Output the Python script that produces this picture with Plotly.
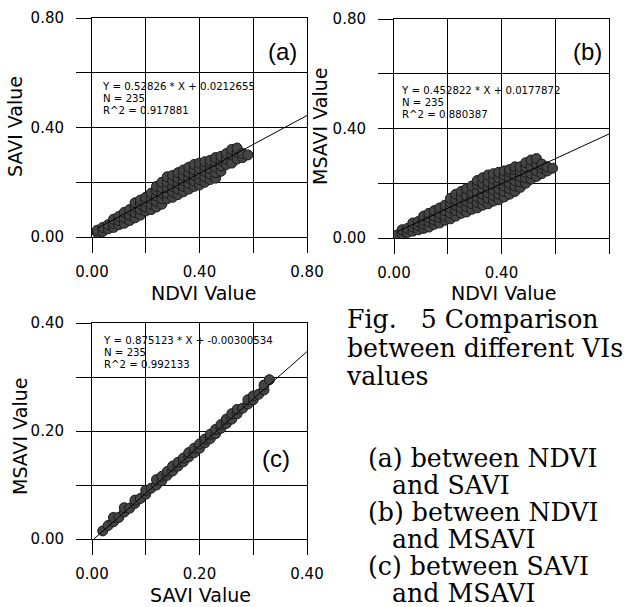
import plotly.graph_objects as go

# ---------------- data ----------------
# (a) NDVI vs SAVI
a_ndvi = [0.02, 0.02, 0.04, 0.04, 0.06, 0.06, 0.08, 0.08, 0.08, 0.10, 0.10, 0.10,
          0.12, 0.12, 0.12, 0.14, 0.14, 0.14, 0.16, 0.16, 0.16, 0.16,
          0.18, 0.18, 0.18, 0.18, 0.20, 0.20, 0.20, 0.20, 0.22, 0.22, 0.22, 0.22,
          0.24, 0.24, 0.24, 0.24, 0.24, 0.26, 0.26, 0.26, 0.26, 0.26,
          0.28, 0.28, 0.28, 0.28, 0.28, 0.30, 0.30, 0.30, 0.30, 0.30,
          0.32, 0.32, 0.32, 0.32, 0.32, 0.34, 0.34, 0.34, 0.34, 0.34,
          0.36, 0.36, 0.36, 0.36, 0.36, 0.38, 0.38, 0.38, 0.38, 0.38,
          0.40, 0.40, 0.40, 0.40, 0.40, 0.42, 0.42, 0.42, 0.42, 0.42,
          0.44, 0.44, 0.44, 0.44, 0.44, 0.46, 0.46, 0.46, 0.46, 0.46,
          0.48, 0.48, 0.48, 0.48, 0.50, 0.50, 0.50, 0.52, 0.52, 0.52,
          0.54, 0.54, 0.54, 0.56, 0.56, 0.58]
a_savi = [0.015, 0.025, 0.020, 0.035, 0.030, 0.045, 0.035, 0.050, 0.065, 0.045, 0.060, 0.075,
          0.050, 0.070, 0.090, 0.060, 0.080, 0.100, 0.070, 0.090, 0.110, 0.125,
          0.080, 0.100, 0.120, 0.135, 0.095, 0.110, 0.130, 0.145, 0.100, 0.120, 0.140, 0.160,
          0.110, 0.130, 0.150, 0.170, 0.185, 0.120, 0.140, 0.160, 0.180, 0.200,
          0.140, 0.160, 0.180, 0.200, 0.220, 0.145, 0.165, 0.185, 0.205, 0.225,
          0.155, 0.175, 0.195, 0.215, 0.235, 0.165, 0.185, 0.205, 0.225, 0.245,
          0.175, 0.195, 0.215, 0.235, 0.255, 0.185, 0.205, 0.225, 0.245, 0.265,
          0.190, 0.210, 0.230, 0.250, 0.270, 0.200, 0.220, 0.240, 0.260, 0.275,
          0.210, 0.230, 0.250, 0.270, 0.280, 0.215, 0.235, 0.255, 0.275, 0.290,
          0.240, 0.260, 0.280, 0.295, 0.265, 0.285, 0.305, 0.270, 0.300, 0.320,
          0.285, 0.310, 0.325, 0.290, 0.305, 0.300]

# (b) NDVI vs MSAVI
b_ndvi = [0.01, 0.03, 0.03, 0.05, 0.05, 0.07, 0.07, 0.07, 0.09, 0.09, 0.09,
          0.11, 0.11, 0.11, 0.11, 0.13, 0.13, 0.13, 0.13, 0.15, 0.15, 0.15, 0.15,
          0.17, 0.17, 0.17, 0.17, 0.19, 0.19, 0.19, 0.19,
          0.21, 0.21, 0.21, 0.21, 0.21, 0.23, 0.23, 0.23, 0.23, 0.23,
          0.25, 0.25, 0.25, 0.25, 0.25, 0.27, 0.27, 0.27, 0.27, 0.27,
          0.29, 0.29, 0.29, 0.29, 0.29, 0.31, 0.31, 0.31, 0.31, 0.31, 0.31,
          0.33, 0.33, 0.33, 0.33, 0.33, 0.33, 0.35, 0.35, 0.35, 0.35, 0.35, 0.35,
          0.37, 0.37, 0.37, 0.37, 0.37, 0.37, 0.39, 0.39, 0.39, 0.39, 0.39, 0.39,
          0.41, 0.41, 0.41, 0.41, 0.41, 0.41, 0.43, 0.43, 0.43, 0.43, 0.43, 0.43,
          0.45, 0.45, 0.45, 0.45, 0.45, 0.45, 0.47, 0.47, 0.47, 0.47, 0.47,
          0.49, 0.49, 0.49, 0.49, 0.49, 0.51, 0.51, 0.51, 0.51,
          0.53, 0.53, 0.53, 0.53, 0.55, 0.55, 0.55, 0.57, 0.57, 0.59]
b_msavi = [0.010, 0.015, 0.030, 0.020, 0.035, 0.025, 0.040, 0.055, 0.030, 0.045, 0.060,
           0.035, 0.050, 0.065, 0.080, 0.040, 0.060, 0.075, 0.090, 0.050, 0.065, 0.080, 0.100,
           0.055, 0.075, 0.090, 0.110, 0.065, 0.080, 0.100, 0.120,
           0.070, 0.090, 0.110, 0.130, 0.145, 0.080, 0.100, 0.120, 0.140, 0.160,
           0.090, 0.110, 0.130, 0.150, 0.170, 0.095, 0.115, 0.135, 0.155, 0.180,
           0.105, 0.125, 0.145, 0.165, 0.190, 0.110, 0.130, 0.150, 0.170, 0.195, 0.210,
           0.120, 0.140, 0.160, 0.180, 0.200, 0.220, 0.125, 0.145, 0.165, 0.185, 0.205, 0.230,
           0.135, 0.155, 0.175, 0.195, 0.215, 0.235, 0.140, 0.160, 0.180, 0.200, 0.220, 0.240,
           0.150, 0.170, 0.190, 0.210, 0.230, 0.245, 0.160, 0.180, 0.200, 0.220, 0.240, 0.250,
           0.170, 0.190, 0.210, 0.230, 0.250, 0.260, 0.185, 0.205, 0.225, 0.245, 0.260,
           0.200, 0.220, 0.240, 0.260, 0.275, 0.215, 0.235, 0.260, 0.285,
           0.225, 0.245, 0.270, 0.290, 0.235, 0.255, 0.270, 0.245, 0.260, 0.255]

# (c) SAVI vs MSAVI
c_savi = [0.02, 0.03, 0.04, 0.04, 0.05, 0.06, 0.06, 0.07, 0.08, 0.08, 0.09, 0.10, 0.10,
          0.11, 0.12, 0.12, 0.13, 0.13, 0.14, 0.14, 0.15, 0.15, 0.16, 0.16, 0.17, 0.17,
          0.18, 0.18, 0.19, 0.19, 0.20, 0.20, 0.21, 0.21, 0.22, 0.22, 0.23, 0.23,
          0.24, 0.24, 0.25, 0.25, 0.26, 0.26, 0.27, 0.27, 0.28, 0.29, 0.29, 0.30, 0.30,
          0.31, 0.32, 0.32, 0.33]
c_msavi = [0.015, 0.025, 0.032, 0.040, 0.040, 0.050, 0.058, 0.057, 0.066, 0.072, 0.075, 0.083, 0.090,
           0.094, 0.100, 0.110, 0.108, 0.116, 0.118, 0.125, 0.126, 0.135, 0.135, 0.142, 0.143, 0.150,
           0.152, 0.160, 0.160, 0.168, 0.168, 0.176, 0.178, 0.185, 0.186, 0.194, 0.195, 0.203,
           0.205, 0.212, 0.214, 0.222, 0.222, 0.232, 0.232, 0.240, 0.242, 0.250, 0.258, 0.258, 0.265,
           0.268, 0.276, 0.285, 0.295]

# regression equations shown on the panels
fit_a = (0.52826, 0.0212655)
fit_b = (0.452822, 0.0177872)
fit_c = (0.875123, -0.00300534)
line_x_a = [0.02, 0.80]
line_x_b = [0.01, 0.80]
line_x_c = [0.00343, 0.40]

eq_a = ["Y = 0.52826 * X + 0.0212655", "N = 235", "R^2 = 0.917881"]
eq_b = ["Y = 0.452822 * X + 0.0177872", "N = 235", "R^2 = 0.880387"]
eq_c = ["Y = 0.875123 * X + -0.00300534", "N = 235", "R^2 = 0.992133"]

ticks_ab = [0.0, 0.2, 0.4, 0.6, 0.8]
ticktext_ab = ["0.00", "", "0.40", "", "0.80"]
ticks_c = [0.0, 0.1, 0.2, 0.3, 0.4]
ticktext_c = ["0.00", "", "0.20", "", "0.40"]

NB = "\u00a0"
caption = ["Fig." + NB * 3 + "5 Comparison", "between different VIs", "values"]
notes = ["(a) between NDVI", NB * 3 + "and SAVI", "(b) between NDVI",
         NB * 3 + "and MSAVI", "(c) between SAVI", NB * 3 + "and MSAVI"]

# ---------------- layout helpers ----------------
W, H = 624, 607
def PX(x): return x / W
def PY(y): return 1 - y / H

fig = go.Figure()

marker = dict(symbol="circle", size=10, color="#444444", line=dict(color="#1a1a1a", width=1))
for xs, ys, ax in [(a_ndvi, a_savi, ("x", "y")), (b_ndvi, b_msavi, ("x2", "y2")), (c_savi, c_msavi, ("x3", "y3"))]:
    fig.add_trace(go.Scatter(x=xs, y=ys, mode="markers", marker=marker,
                             xaxis=ax[0], yaxis=ax[1], showlegend=False, hoverinfo="skip"))

for lx, fit, ax in [(line_x_a, fit_a, ("x", "y")), (line_x_b, fit_b, ("x2", "y2")), (line_x_c, fit_c, ("x3", "y3"))]:
    ly = [fit[0] * v + fit[1] for v in lx]
    fig.add_trace(go.Scatter(x=lx, y=ly, mode="lines", line=dict(color="black", width=1),
                             xaxis=ax[0], yaxis=ax[1], showlegend=False, hoverinfo="skip"))

tickfont = dict(family="DejaVu Sans", size=15, color="black")
def axis(domain, rng, tv, tt, anchor, is_y):
    return dict(domain=domain, range=rng, tickvals=tv, ticktext=tt, anchor=anchor,
                showline=True, linecolor="black", linewidth=1, mirror=True,
                showgrid=True, gridcolor="black", gridwidth=1, zeroline=False,
                ticks="outside", ticklen=15, tickwidth=1, tickcolor="black",
                tickfont=tickfont, fixedrange=True, automargin=False,
                ticklabelstandoff=9 if is_y else 6)

xa = [PX(92), PX(307)]; ya = [PY(237), PY(18)]
xb = [PX(394), PX(609)]; yb = [PY(238), PY(19)]
xc = [PX(92), PX(307)]; yc = [PY(539), PY(323)]

fig.update_layout(
    width=W, height=H, margin=dict(l=0, r=0, t=0, b=0, autoexpand=False),
    paper_bgcolor="white", plot_bgcolor="white",
    xaxis=axis(xa, [0, 0.8], ticks_ab, ticktext_ab, "y", False),
    yaxis=axis(ya, [0, 0.8], ticks_ab, ticktext_ab, "x", True),
    xaxis2=axis(xb, [0, 0.8], ticks_ab, ticktext_ab, "y2", False),
    yaxis2=axis(yb, [0, 0.8], ticks_ab, ticktext_ab, "x2", True),
    xaxis3=axis(xc, [0, 0.4], ticks_c, ticktext_c, "y3", False),
    yaxis3=axis(yc, [0, 0.4], ticks_c, ticktext_c, "x3", True),
)

ann = []
def t(text, x, y, font, xanchor="center", yanchor="middle", angle=0):
    ann.append(dict(text=text, x=PX(x), y=PY(y), xref="paper", yref="paper",
                    xanchor=xanchor, yanchor=yanchor, showarrow=False, align="left",
                    font=font, textangle=angle, borderpad=0))

def block(lines, inner_size):
    return "<br>".join('<span style="font-size:%gpx">%s</span>' % (inner_size, s) for s in lines)

titlefont = dict(family="DejaVu Sans", size=19, color="black")
t("NDVI Value", 203, 293, titlefont)
t("SAVI Value", 15, 127, titlefont, angle=-90)
t("NDVI Value", 503, 293, titlefont)
t("MSAVI Value", 320, 127, titlefont, angle=-90)
t("SAVI Value", 200, 595, titlefont)
t("MSAVI Value", 20, 437, titlefont, angle=-90)

# equation blocks: base size sets the line pitch, inner spans set the glyph size
eqfont = dict(family="DejaVu Sans", size=9.4, color="black")
for lines, x0, ymid in [(eq_a, 101, 98), (eq_b, 400, 102), (eq_c, 102, 352)]:
    t(block(lines, 10.2), x0, ymid, eqfont, xanchor="left")

labfont = dict(family="Liberation Sans", size=24, color="black")
t("(a)", 282, 52, labfont)
t("(b)", 587, 51, labfont)
t("(c)", 276, 458, labfont)

capfont = dict(family="DejaVu Serif", size=22, color="black")
t(block(caption, 25.2), 345, 348, capfont, xanchor="left")
notefont = dict(family="DejaVu Serif", size=20.8, color="black")
t(block(notes, 25.2), 367, 526, notefont, xanchor="left")

fig.update_layout(annotations=ann)
fig.write_html("out.html", config={"displayModeBar": False},
               post_script="document.body.style.margin='0px';")
